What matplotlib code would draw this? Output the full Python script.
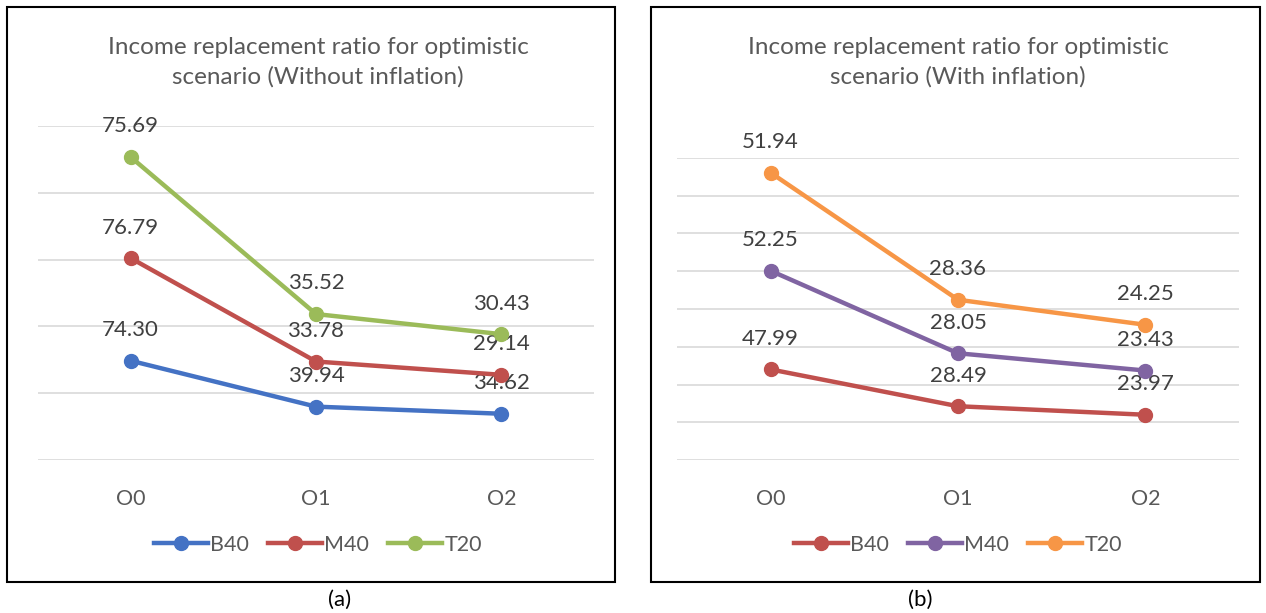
import numpy as np
import matplotlib.pyplot as plt
from matplotlib.patches import Rectangle

plt.rcParams['font.family'] = ['Lato', 'DejaVu Sans']

# data (stacked line chart, labels show each series' own value)
cats = ['O0', 'O1', 'O2']
series = ['B40', 'M40', 'T20']
vals_a = {'B40': [74.30, 39.94, 34.62], 'M40': [76.79, 33.78, 29.14], 'T20': [75.69, 35.52, 30.43]}
vals_b = {'B40': [47.99, 28.49, 23.97], 'M40': [52.25, 28.05, 23.43], 'T20': [51.94, 28.36, 24.25]}
colors_a = ['#4472C4', '#C0504D', '#9BBB59']
colors_b = ['#C0504D', '#8064A2', '#F79646']
titles = ['Income replacement ratio for optimistic\nscenario (Without inflation)',
          'Income replacement ratio for optimistic\nscenario (With inflation)']
captions = ['(a)', '(b)']

W, H = 1266, 613
fig = plt.figure(figsize=(W / 100, H / 100), dpi=100)
gray = '#595959'

def px_axes(x0, x1, ytop, ybot):
    return fig.add_axes([x0 / W, 1 - ybot / H, (x1 - x0) / W, (ybot - ytop) / H])

panels = [
    dict(vals=vals_a, colors=colors_a, ax=(38, 594, 126, 460), ymax=250, step=50,
         frame=(7, 615), cx=318, capx=340),
    dict(vals=vals_b, colors=colors_b, ax=(677, 1239, 158, 460), ymax=160, step=20,
         frame=(651, 1260), cx=958, capx=920),
]

for i, p in enumerate(panels):
    ax = px_axes(*p['ax'])
    x = np.arange(len(cats))
    cum = np.zeros(len(cats))
    for s, c in zip(series, p['colors']):
        v = np.array(p['vals'][s])
        cum = cum + v
        ax.plot(x, cum, color=c, lw=3.2, marker='o', ms=10, label=s, zorder=3)
        for xi, yi, lab in zip(x, cum, v):
            ax.annotate(f'{lab:.2f}', (xi, yi), xytext=(0, 22), textcoords='offset points',
                        ha='center', va='center', fontsize=16, color='#404040')
    ax.set_xlim(-0.5, 2.5)
    ax.set_ylim(0, p['ymax'])
    ax.set_yticks(np.arange(0, p['ymax'] + 1, p['step']))
    ax.yaxis.grid(True, color='#D9D9D9', lw=1.2)
    ax.set_axisbelow(True)
    ax.set_yticklabels([])
    ax.set_xticks(x)
    ax.set_xticklabels(cats, fontsize=15.5, color=gray)
    ax.tick_params(length=0, pad=21)
    for sp in ax.spines.values():
        sp.set_visible(False)
    ax.patch.set_alpha(0)

    leg = fig.legend(*ax.get_legend_handles_labels(), loc='center', ncol=3,
                     bbox_to_anchor=(p['cx'] / W, 1 - 545 / H), frameon=False,
                     fontsize=15.5, handlelength=2.5, columnspacing=0.9, handletextpad=0.1)
    for t in leg.get_texts():
        t.set_color(gray)

    fig.text(p['cx'] / W, 1 - 62 / H, titles[i], ha='center', va='center',
             fontsize=17.5, color=gray, linespacing=1.45)

    f0, f1 = p['frame']
    fig.patches.append(Rectangle((f0 / W, 1 - 582 / H), (f1 - f0) / W, 575 / H,
                                 transform=fig.transFigure, fill=False, ec='black', lw=1.5))
    fig.text(p['capx'] / W, 1 - 600 / H, captions[i], ha='center', va='center',
             fontsize=16, color='black')

fig.savefig('out.png', dpi=100)
